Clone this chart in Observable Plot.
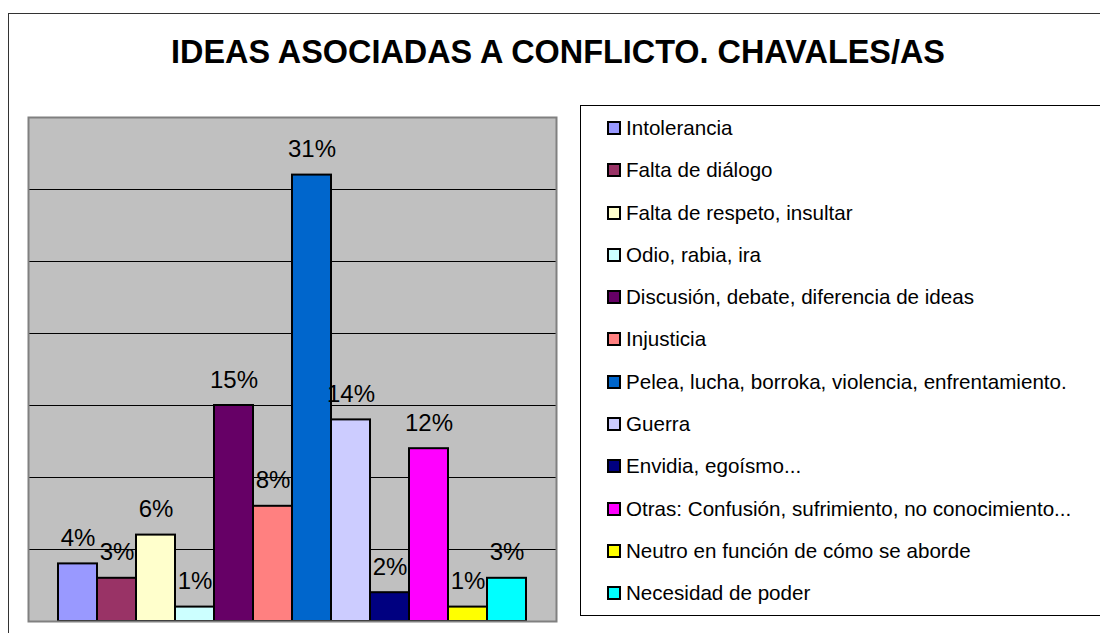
<!DOCTYPE html>
<html>
<head>
<meta charset="utf-8">
<script src="https://cdn.jsdelivr.net/npm/d3@7"></script>
<script src="https://cdn.jsdelivr.net/npm/@observablehq/plot@0.6"></script>
<style>
  html, body { margin: 0; padding: 0; }
  body { width: 1100px; height: 633px; overflow: hidden; position: relative; background: #fff;
         font-family: "Liberation Sans", Arial, sans-serif; }
  #frame { position: absolute; left: 8px; top: 13px; width: 1200px; height: 700px; border: 1.5px solid #333; }
  #title { position: absolute; left: 0; width: 1116px; top: 36px; line-height: 32px; font-size: 32.4px;
           font-weight: bold; text-align: center; color: #000; }
  #chart { position: absolute; left: 0; top: 0; }
  #legend { position: absolute; left: 580px; top: 105px; width: 600px; height: 509px; border: 1px solid #000; background: #fff; }
  .row { position: absolute; left: 0; height: 20px; line-height: 20px; font-size: 20.6px; color: #000; white-space: nowrap; }
  .sw { position: absolute; left: 26px; top: 3px; width: 10px; height: 10px; border: 2px solid #000; }
  .lb { position: absolute; left: 45px; top: 0; }
</style>
</head>
<body>
<div id="frame"></div>
<div id="title">IDEAS ASOCIADAS A CONFLICTO. CHAVALES/AS</div>
<div id="chart"></div>
<div id="legend"></div>
<script>
const categories = [
  "Intolerancia",
  "Falta de diálogo",
  "Falta de respeto, insultar",
  "Odio, rabia, ira",
  "Discusión, debate, diferencia de ideas",
  "Injusticia",
  "Pelea, lucha, borroka, violencia, enfrentamiento.",
  "Guerra",
  "Envidia, egoísmo...",
  "Otras: Confusión, sufrimiento, no conocimiento...",
  "Neutro en función de cómo se aborde",
  "Necesidad de poder"
];
const values = [4, 3, 6, 1, 15, 8, 31, 14, 2, 12, 1, 3];
const colors = ["#9999FF", "#993366", "#FFFFCC", "#CCFFFF", "#660066", "#FF8080",
                "#0066CC", "#CCCCFF", "#000080", "#FF00FF", "#FFFF00", "#00FFFF"];
const gridTicks = [5, 10, 15, 20, 25, 30];

const data = categories.map((c, i) => ({cat: c, value: values[i]}));

const chart = Plot.plot({
  width: 580,
  height: 633,
  marginLeft: 28,
  marginRight: 24,
  marginTop: 117,
  marginBottom: 12,
  style: {background: "transparent", fontFamily: "'Liberation Sans', Arial, sans-serif", overflow: "visible"},
  x: {type: "band", domain: categories, paddingInner: 0, paddingOuter: 0.75, axis: null},
  y: {domain: [0, 35], axis: null},
  color: {domain: categories, range: colors},
  marks: [
    Plot.frame({fill: "#C0C0C0", stroke: null}),
    Plot.ruleY(gridTicks, {stroke: "#000", strokeWidth: 1}),
    Plot.barY(data, {x: "cat", y: "value", fill: "cat", stroke: "#000", strokeWidth: 2}),
    Plot.text(data, {x: "cat", y: "value", text: d => d.value + "%", fontSize: 24, fill: "#000",
                     lineAnchor: "bottom", dy: -18}),
    Plot.frame({stroke: "#808080", strokeWidth: 2, fill: "none"})
  ]
});
document.getElementById("chart").appendChild(chart);

const legend = document.getElementById("legend");
categories.forEach((c, i) => {
  const row = document.createElement("div");
  row.className = "row";
  row.style.top = (11.9 + 42.3 * i) + "px";
  const sw = document.createElement("span");
  sw.className = "sw";
  sw.style.background = colors[i];
  const lb = document.createElement("span");
  lb.className = "lb";
  lb.textContent = c;
  row.appendChild(sw);
  row.appendChild(lb);
  legend.appendChild(row);
});
</script>
</body>
</html>
